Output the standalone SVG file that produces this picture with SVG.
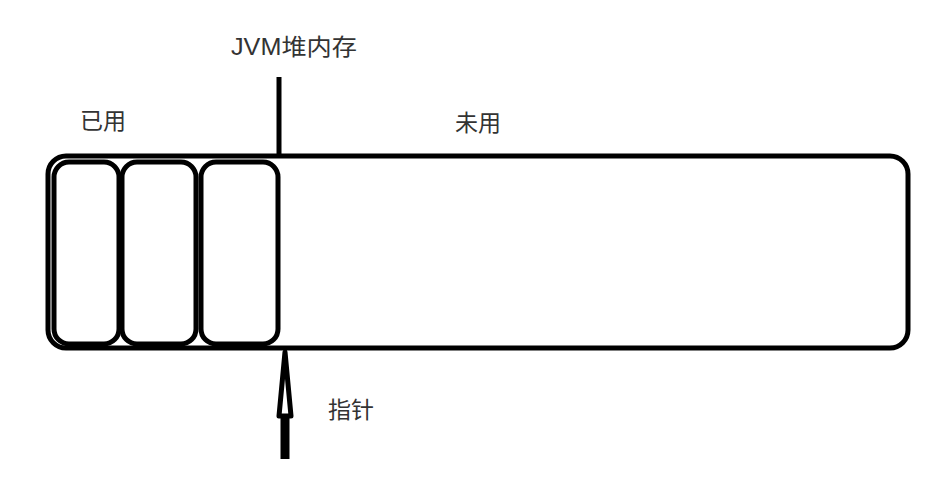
<svg xmlns="http://www.w3.org/2000/svg" width="936" height="504" viewBox="0 0 936 504">
<style>
.t{font-family:"Liberation Sans","Noto Sans CJK SC",sans-serif;font-size:23px;fill:#333}
.box{fill:none;stroke:#000;stroke-width:5}
.ln{stroke:#000;fill:none;stroke-linecap:butt}
</style>
<rect width="936" height="504" fill="#fff"/>
<g id="heap"><rect class="box" x="48" y="156" width="860" height="192" rx="18"/></g>
<g id="cell1"><rect class="box" x="54" y="162" width="65" height="182" rx="15"/></g>
<g id="cell2"><rect class="box" x="122" y="162" width="74" height="182" rx="15"/></g>
<g id="cell3"><rect class="box" x="201" y="162" width="77" height="182" rx="15"/></g>
<g id="labels">
<text class="t" x="231" y="55" textLength="126" lengthAdjust="spacingAndGlyphs">JVM堆内存</text>
<text class="t" x="80" y="129">已用</text>
<text class="t" x="455" y="131">未用</text>
<text class="t" x="328" y="418">指针</text>
</g>
<g id="connectors">
<line class="ln" x1="279" y1="77" x2="279" y2="157" stroke-width="5"/>
<line class="ln" x1="285" y1="416" x2="285" y2="459" stroke-width="9"/>
<polygon points="285,352 279,416 291,416" fill="#fff" stroke="#000" stroke-width="5" stroke-linejoin="round"/>
</g>
</svg>
